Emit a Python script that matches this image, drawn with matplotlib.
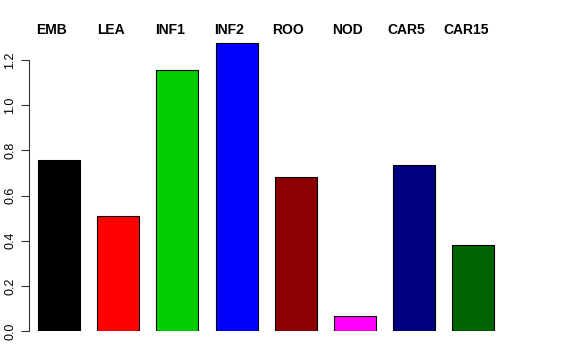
import matplotlib.pyplot as plt
import numpy as np

# tissue labels and values
labels = ["EMB", "LEA", "INF1", "INF2", "ROO", "NOD", "CAR5", "CAR15"]
values = [0.756, 0.511, 1.156, 1.276, 0.684, 0.067, 0.733, 0.382]
colors = ["black", "red", "#00CD00", "blue", "#8B0000", "magenta", "#000080", "#006400"]
yticks = [0.0, 0.2, 0.4, 0.6, 0.8, 1.0, 1.2]

plt.rcParams['font.family'] = ['Liberation Sans', 'DejaVu Sans']

fig = plt.figure(figsize=(5.76, 3.6), dpi=100)
ax = fig.add_axes([29/576, 29/360, (555-29)/576, 301/360])

x = np.arange(len(labels))
ax.bar(x, values, width=0.71, color=colors, edgecolor="black", linewidth=0.8)

# labels written above the bars, a bit left of centre
for xi, lab in zip(x, labels):
    ax.text(xi - 0.13, 1.0, lab, transform=ax.get_xaxis_transform(),
            ha="center", va="center", fontsize=10, fontweight="bold")

ax.set_xlim(-0.507, 8.38)
ax.set_ylim(0, 1.333)
ax.set_yticks(yticks)
ax.set_yticklabels([f"{t:.1f}" for t in yticks], rotation=90, va="center", fontsize=9)
ax.tick_params(axis="y", length=6, width=0.8, pad=3, color="#333333")
ax.spines["left"].set_bounds(0, 1.2)
ax.spines["left"].set_color("#333333")
for s in ["top", "right", "bottom"]:
    ax.spines[s].set_visible(False)
ax.set_xticks([])

fig.savefig("out.png", dpi=100)
